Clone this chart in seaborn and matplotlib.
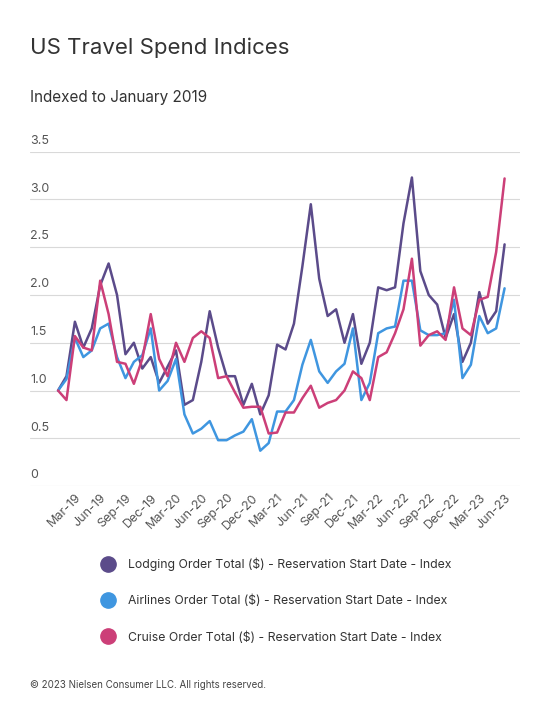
import seaborn as sns
import numpy as np
import pandas as pd
import matplotlib.pyplot as plt
from matplotlib.lines import Line2D

months = pd.date_range('2019-01-01', '2023-06-01', freq='MS')

lodging = [1.0, 1.15, 1.72, 1.45, 1.65, 2.1, 2.33, 2.0, 1.38, 1.5, 1.23, 1.35,
           1.08, 1.25, 1.42, 0.85, 0.9, 1.3, 1.83, 1.45, 1.15, 1.15, 0.85, 1.07,
           0.75, 0.95, 1.48, 1.43, 1.7, 2.3, 2.95, 2.17, 1.78, 1.85, 1.5, 1.8,
           1.28, 1.5, 2.08, 2.05, 2.08, 2.75, 3.23, 2.25, 2.0, 1.9, 1.55, 1.8,
           1.3, 1.5, 2.03, 1.7, 1.83, 2.53]
airlines = [1.0, 1.12, 1.55, 1.35, 1.42, 1.65, 1.7, 1.35, 1.13, 1.3, 1.37, 1.65,
            1.0, 1.1, 1.33, 0.75, 0.55, 0.6, 0.68, 0.48, 0.48, 0.53, 0.57, 0.7,
            0.37, 0.45, 0.78, 0.78, 0.9, 1.27, 1.53, 1.2, 1.08, 1.2, 1.28, 1.65,
            0.9, 1.08, 1.6, 1.65, 1.67, 2.15, 2.15, 1.63, 1.58, 1.58, 1.6, 1.95,
            1.13, 1.27, 1.78, 1.6, 1.65, 2.07]
cruise = [1.0, 0.9, 1.57, 1.45, 1.42, 2.15, 1.8, 1.3, 1.28, 1.07, 1.33, 1.8,
          1.33, 1.15, 1.5, 1.3, 1.55, 1.62, 1.55, 1.13, 1.15, 0.98, 0.82, 0.83,
          0.83, 0.55, 0.56, 0.77, 0.77, 0.92, 1.05, 0.82, 0.87, 0.9, 1.0, 1.2,
          1.13, 0.9, 1.35, 1.4, 1.6, 1.85, 2.38, 1.47, 1.58, 1.62, 1.53, 2.08,
          1.65, 1.58, 1.95, 1.98, 2.45, 3.22]

series_names = ['Lodging Order Total ($) - Reservation Start Date - Index',
                'Airlines Order Total ($) - Reservation Start Date - Index',
                'Cruise Order Total ($) - Reservation Start Date - Index']
colors = ['#5b4b8a', '#3f96e0', '#cc3f78']
y_ticks = [0, 0.5, 1.0, 1.5, 2.0, 2.5, 3.0, 3.5]
y_labels = ['0', '0.5', '1.0', '1.5', '2.0', '2.5', '3.0', '3.5']

df = pd.DataFrame({'idx': np.arange(len(months)),
                   series_names[0]: lodging,
                   series_names[1]: airlines,
                   series_names[2]: cruise})
long = df.melt(id_vars='idx', var_name='series', value_name='value')

sns.set_style('white')
plt.rcParams['font.family'] = ['Inter', 'DejaVu Sans']

fig = plt.figure(figsize=(5.5, 7.19), dpi=100)
ax = fig.add_axes([0.055, 0.324, 0.89, 0.465])
sns.lineplot(data=long, x='idx', y='value', hue='series', palette=colors,
             hue_order=series_names, linewidth=1.8, legend=False, ax=ax)

ax.set_xlim(-3.3, 54.8)
ax.set_ylim(0, 3.5)
ax.set_yticks(y_ticks)
ax.set_yticklabels([])
ax.tick_params(axis='y', length=0)
ax.grid(axis='y', color='#d9d9d9', linewidth=0.8)
for t, lab in zip(y_ticks, y_labels):
    ax.text(0, t + 0.05, lab, transform=ax.get_yaxis_transform(),
            ha='left', va='bottom', fontsize=9, color='#555555')

xt = list(range(2, len(months), 3))
ax.set_xticks(xt)
ax.set_xticklabels([months[i].strftime('%b-%y') for i in xt], rotation=45,
                   ha='right', rotation_mode='anchor', fontsize=9, color='#555555')
ax.tick_params(axis='x', length=0, pad=4)
ax.set_xlabel('')
ax.set_ylabel('')
for s in ax.spines.values():
    s.set_visible(False)

handles = [Line2D([], [], marker='o', linestyle='', markersize=11, color=c) for c in colors]
fig.legend(handles, series_names, loc='upper left', bbox_to_anchor=(0.155, 0.24),
           frameon=False, fontsize=8.8, labelspacing=1.95, handletextpad=0.6,
           labelcolor='#333333')

fig.text(0.055, 0.925, 'US Travel Spend Indices', fontsize=16, color='#333333')
fig.text(0.055, 0.858, 'Indexed to January 2019', fontsize=11, color='#333333')
fig.text(0.055, 0.043, '\u00a9 2023 Nielsen Consumer LLC. All rights reserved.',
         fontsize=7, color='#444444')

fig.savefig('out.png', dpi=100)
